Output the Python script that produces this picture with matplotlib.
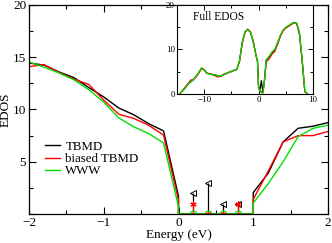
import matplotlib
matplotlib.use("Agg")
import matplotlib.pyplot as plt
from matplotlib.ticker import MultipleLocator

plt.rcParams['font.family'] = ['Liberation Serif', 'DejaVu Serif']
plt.rcParams['mathtext.fontset'] = 'stix'

# --- main panel: EDOS near the gap ---
energy = [-2.0, -1.8, -1.6, -1.4, -1.2, -1.0, -0.8, -0.6, -0.4, -0.2, 0.0, 0.0,
          1.0, 1.0, 1.2, 1.4, 1.6, 1.8, 2.0]
edos_tbmd = [14.45, 14.25, 13.6, 13.05, 12.1, 11.2, 10.15, 9.5, 8.65, 7.95, 1.7, 0.0,
             0.0, 2.05, 3.9, 6.9, 8.2, 8.4, 8.75]
edos_biased = [14.1, 14.3, 13.55, 12.9, 12.4, 10.9, 9.55, 9.15, 8.5, 7.55, 1.3, 0.0,
               0.0, 1.4, 4.1, 6.9, 7.5, 7.5, 7.9]
edos_www = [14.55, 14.05, 13.5, 12.85, 11.9, 10.7, 9.2, 8.35, 7.7, 6.8, 0.7, 0.0,
            0.0, 1.05, 2.9, 5.0, 7.4, 8.2, 8.5]

# gap states
gap_e = [0.2, 0.4, 0.6, 0.8]
gap_tbmd = [2.0, 3.0, 1.0, 0.95]
gap_biased = [1.0, 0.0, 0.0, 1.0]
gap_www = [0.0, 0.0, 0.0, 0.0]

main_yticks = [0, 5, 10, 15, 20]
main_ylabels = ['', '5', '10', '15', '20']

# --- inset: full EDOS ---
full_e = [-14.5, -13.5, -13, -12.5, -12, -11.5, -11, -10.5, -10, -9.5, -9, -8.5, -8,
          -7.5, -7, -6.5, -6, -5.5, -5, -4.5, -4, -3.5, -3, -2.5, -2, -1.5, -1, -0.5,
          -0.2, 0, 0.3, 0.5, 0.8, 1.1, 1.4, 2, 2.5, 3, 3.5, 4, 4.5, 5, 5.5, 6, 6.5,
          7, 7.5, 8, 8.5, 9]
full_tbmd = [0.0, 1.4, 2.2, 2.7, 3.2, 3.9, 4.8, 5.8, 5.4, 4.7, 4.5, 4.4, 4.3,
             4.1, 4.0, 4.3, 4.6, 4.8, 5.1, 5.3, 5.5, 7.5, 11.6, 13.9, 14.5, 13.9, 11.8, 8.8,
             7.4, 1.5, 1.2, 3.0, 0.4, 3.5, 7.6, 8.4, 9.3, 9.9, 11.5, 13.1, 14.3, 14.9, 15.3,
             15.7, 16.1, 15.8, 13.5, 7.5, 0.5, 0.0]
full_biased = [0.0, 1.5, 2.3, 3.1, 3.3, 3.8, 4.7, 5.7, 5.5, 4.6, 4.6, 4.3, 4.1,
               3.8, 4.0, 4.4, 4.5, 4.9, 5.0, 5.3, 5.6, 7.3, 11.4, 13.8, 14.6, 14.0, 12.0, 8.9,
               7.2, 1.3, 0.8, 0.6, 0.3, 3.0, 7.2, 8.0, 9.0, 9.6, 11.2, 12.9, 14.2, 14.8, 15.2,
               15.6, 16.0, 15.9, 13.8, 7.8, 0.6, 0.0]
full_www = [0.0, 1.3, 2.1, 2.8, 3.2, 4.0, 4.9, 5.9, 5.4, 4.7, 4.4, 4.4, 4.2,
            4.1, 4.1, 4.2, 4.6, 4.9, 5.0, 5.4, 5.5, 7.6, 11.7, 14.0, 14.5, 13.8, 11.7, 8.7,
            7.3, 1.2, 0.5, 0.3, 0.2, 3.3, 7.7, 8.6, 9.5, 10.1, 11.6, 13.2, 14.4, 15.0, 15.4,
            15.8, 16.0, 15.9, 13.9, 7.9, 0.7, 0.0]

fig = plt.figure(figsize=(3.32, 2.43), dpi=100)
ax = fig.add_axes([29/332, 1-214/243, (328-29)/332, (214-5)/243])

ax.plot(energy, edos_tbmd, color='black', lw=1.0, label='TBMD')
ax.plot(energy, edos_biased, color='red', lw=1.0, label='biased TBMD')
ax.plot(energy, edos_www, color='#00e000', lw=1.0, label='WWW')

ax.vlines(gap_e, 0, gap_tbmd, color='black', lw=0.9)
ax.plot(gap_e, gap_tbmd, ls='none', marker='<', ms=4.5, mfc='none', mec='black', mew=0.7)
ax.vlines(gap_e, 0, gap_biased, color='red', lw=0.9)
ax.plot(gap_e, gap_biased, ls='none', marker=(6, 2, 0), ms=4.5, color='red', mew=0.8)
ax.plot(gap_e, gap_www, ls='none', marker='o', ms=5, mfc='none', mec='#00e000', mew=0.8)

ax.set_xlim(-2, 2)
ax.set_ylim(0, 20)
ax.xaxis.set_major_locator(MultipleLocator(1))
ax.xaxis.set_minor_locator(MultipleLocator(0.5))
ax.set_yticks(main_yticks, main_ylabels)
ax.yaxis.set_minor_locator(MultipleLocator(2.5))
ax.tick_params(which='both', direction='in', top=True, right=True, labelsize=9.5, width=0.8, pad=2)
ax.tick_params(which='major', length=5)
ax.tick_params(which='minor', length=3)
for s in ax.spines.values():
    s.set_linewidth(0.9)
ax.set_xlabel('Energy (eV)', fontsize=9.5, labelpad=0)
ax.set_ylabel('EDOS', fontsize=9.5, labelpad=1)
ax.legend(loc='center left', bbox_to_anchor=(0.055, 0.263), frameon=False, fontsize=9.3,
          borderpad=0, borderaxespad=0, handlelength=1.1, handletextpad=0.45, labelspacing=0.0)

ins = fig.add_axes([177/332, 1-94/243, (313-177)/332, (94-5)/243])
ins.plot(full_e, full_tbmd, color='black', lw=0.9)
ins.plot(full_e, full_biased, color='red', lw=0.9)
ins.plot(full_e, full_www, color='#00e000', lw=0.9)
ins.set_xlim(-15, 10)
ins.set_ylim(0, 20)
ins.xaxis.set_major_locator(MultipleLocator(10))
ins.xaxis.set_minor_locator(MultipleLocator(5))
ins.yaxis.set_major_locator(MultipleLocator(10))
ins.yaxis.set_minor_locator(MultipleLocator(5))
ins.tick_params(which='both', direction='in', top=True, right=True, labelsize=6.5, width=0.7, pad=1.5)
ins.tick_params(which='major', length=3.5)
ins.tick_params(which='minor', length=2)
for s in ins.spines.values():
    s.set_linewidth(0.8)
ins.text(0.115, 0.835, 'Full EDOS', transform=ins.transAxes, fontsize=8.3)

fig.savefig('out.png', dpi=100)
